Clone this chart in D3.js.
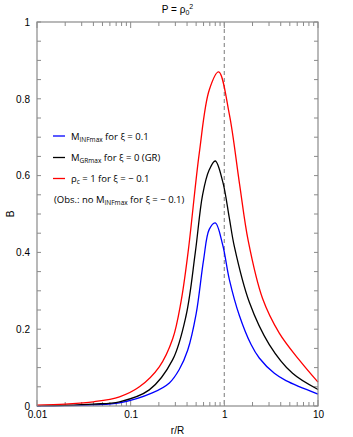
<!DOCTYPE html>
<html>
<head>
<meta charset="utf-8">
<script src="https://cdn.jsdelivr.net/npm/d3@7"></script>
<style>
  body { margin: 0; background: #fff; }
  svg { display: block; font-family: "Liberation Sans", Arial, sans-serif; }
</style>
</head>
<body>
<div id="chart"></div>
<script>
// values (r/R, B)
const rBlue = [0.01, 0.02, 0.04, 0.076, 0.17, 0.259, 0.33, 0.406, 0.5, 0.6, 0.69, 0.8, 0.96, 1.13, 1.45, 1.93, 2.36, 3.42, 4.55, 10];
const bBlue = [0.0005, 0.001, 0.003, 0.008, 0.034, 0.06, 0.095, 0.145, 0.24, 0.38, 0.46, 0.477, 0.42, 0.33, 0.235, 0.16, 0.125, 0.085, 0.066, 0.031];

const rBlack = [0.01, 0.02, 0.04, 0.076, 0.158, 0.28, 0.39, 0.49, 0.586, 0.69, 0.8, 0.96, 1.13, 1.28, 1.85, 3.02, 5.35, 10];
const bBlack = [0.001, 0.002, 0.005, 0.011, 0.042, 0.12, 0.235, 0.4, 0.55, 0.615, 0.638, 0.585, 0.49, 0.415, 0.27, 0.16, 0.085, 0.043];

const rRed = [0.01, 0.02, 0.04, 0.076, 0.124, 0.202, 0.281, 0.345, 0.41, 0.541, 0.69, 0.87, 1.13, 1.45, 1.8, 2.56, 3.86, 6.3, 10];
const bRed = [0.002, 0.005, 0.011, 0.024, 0.05, 0.102, 0.175, 0.272, 0.4, 0.66, 0.823, 0.87, 0.76, 0.58, 0.43, 0.28, 0.19, 0.12, 0.062];

const xTickLabels = [0.01, 0.1, 1, 10];
const yTickLabels = [0, 0.2, 0.4, 0.6, 0.8, 1];

const W = 353, H = 437;
const m = { left: 37, right: 318, top: 22, bottom: 406 };

const svg = d3.select('#chart').append('svg')
    .attr('width', W)
    .attr('height', H);

const x = d3.scaleLog().domain([0.01, 10]).range([m.left, m.right]);
const y = d3.scaleLinear().domain([0, 1]).range([m.bottom, m.top]);

const axisColor = '#8a8a8a';

// x ticks: decades long, the rest short (bottom + top, pointing inward)
const minorX = [];
for (let e = -2; e < 1; e++) {
    for (let k = 2; k <= 9; k++) minorX.push(k * Math.pow(10, e));
}
[[m.bottom, -1], [m.top, 1]].forEach(([yy, dir]) => {
    svg.append('g').selectAll('line.minor')
        .data(minorX).enter().append('line')
        .attr('x1', d => x(d)).attr('x2', d => x(d))
        .attr('y1', yy).attr('y2', yy + dir * 4)
        .attr('stroke', axisColor);
    svg.append('g').selectAll('line.major')
        .data(xTickLabels).enter().append('line')
        .attr('x1', d => x(d)).attr('x2', d => x(d))
        .attr('y1', yy).attr('y2', yy + dir * 6)
        .attr('stroke', axisColor);
});

// y ticks every 0.05, both sides
const yMinor = d3.range(0, 1.0001, 0.05);
[[m.left, 1], [m.right, -1]].forEach(([xx, dir]) => {
    svg.append('g').selectAll('line')
        .data(yMinor).enter().append('line')
        .attr('x1', xx).attr('x2', xx + dir * 4)
        .attr('y1', d => y(d)).attr('y2', d => y(d))
        .attr('stroke', axisColor);
});

// tick labels via axes (tick lines hidden)
const xAxis = svg.append('g')
    .attr('transform', `translate(0,${m.bottom})`)
    .call(d3.axisBottom(x).tickValues(xTickLabels).tickFormat(d3.format('')).tickSize(0).tickPadding(5));
xAxis.select('.domain').remove();
xAxis.selectAll('text').attr('font-size', 10).attr('fill', '#000').attr('font-family', null);

const yAxis = svg.append('g')
    .attr('transform', `translate(${m.left},0)`)
    .call(d3.axisLeft(y).tickValues(yTickLabels).tickFormat(d3.format('')).tickSize(0).tickPadding(7));
yAxis.select('.domain').remove();
yAxis.selectAll('text').attr('font-size', 10).attr('fill', '#000').attr('font-family', null);

// dashed line at r/R = 1
svg.append('line')
    .attr('x1', x(1)).attr('x2', x(1))
    .attr('y1', m.top).attr('y2', m.bottom)
    .attr('stroke', '#999')
    .attr('stroke-width', 1.3)
    .attr('stroke-dasharray', '4,3');

// curves
const line = d3.line()
    .x(d => x(d[0]))
    .y(d => y(d[1]))
    .curve(d3.curveCatmullRom.alpha(0.5));

const series = [
    { r: rBlue, b: bBlue, color: '#0000ff' },
    { r: rBlack, b: bBlack, color: '#000000' },
    { r: rRed, b: bRed, color: '#ff0000' }
];
series.forEach(s => {
    svg.append('path')
        .datum(d3.zip(s.r, s.b))
        .attr('d', line)
        .attr('fill', 'none')
        .attr('stroke', s.color)
        .attr('stroke-width', 1.3);
});

// frame
svg.append('rect')
    .attr('x', m.left).attr('y', m.top)
    .attr('width', m.right - m.left).attr('height', m.bottom - m.top)
    .attr('fill', 'none')
    .attr('stroke', axisColor)
    .attr('stroke-width', 1.2);

// titles
const title = svg.append('text')
    .attr('x', (m.left + m.right) / 2).attr('y', 13)
    .attr('text-anchor', 'middle')
    .attr('font-size', 10);
title.append('tspan').text('P = ρ');
title.append('tspan').attr('font-size', 7).attr('dy', 2).text('0');
title.append('tspan').attr('font-size', 7).attr('dy', -6).text('2');

svg.append('text')
    .attr('x', (m.left + m.right) / 2).attr('y', 434)
    .attr('text-anchor', 'middle')
    .attr('font-size', 10)
    .text('r/R');

svg.append('text')
    .attr('transform', `translate(14,${(m.top + m.bottom) / 2}) rotate(-90)`)
    .attr('text-anchor', 'middle')
    .attr('font-size', 10)
    .text('B');

// legend
const legend = [
    { color: '#0000ff', parts: [['M', 0], ['INFmax', 1], [' for ξ = 0.1', 0]] },
    { color: '#000000', parts: [['M', 0], ['GRmax', 1], [' for ξ = 0 (GR)', 0]] },
    { color: '#ff0000', parts: [['ρ', 0], ['c', 1], [' = 1 for ξ = − 0.1', 0]] },
    { color: null, parts: [['(Obs.: no M', 0], ['INFmax', 1], [' for ξ = − 0.1)', 0]] }
];
const legY = [136, 157.5, 178.5, 199.5];
legend.forEach((l, i) => {
    if (l.color) {
        svg.append('line')
            .attr('x1', 53).attr('x2', 65)
            .attr('y1', legY[i]).attr('y2', legY[i])
            .attr('stroke', l.color)
            .attr('stroke-width', 1.3);
    }
    const t = svg.append('text')
        .attr('x', l.color ? 71 : 54).attr('y', legY[i] + 3.5)
        .attr('font-family', '"Open Sans", sans-serif')
        .attr('font-size', 9.5);
    let sub = 0;
    l.parts.forEach(p => {
        const ts = t.append('tspan').text(p[0]);
        if (p[1] && !sub) { ts.attr('font-size', 6.5).attr('dy', 2); sub = 1; }
        else if (!p[1] && sub) { ts.attr('dy', -2); sub = 0; }
    });
});
</script>
</body>
</html>
